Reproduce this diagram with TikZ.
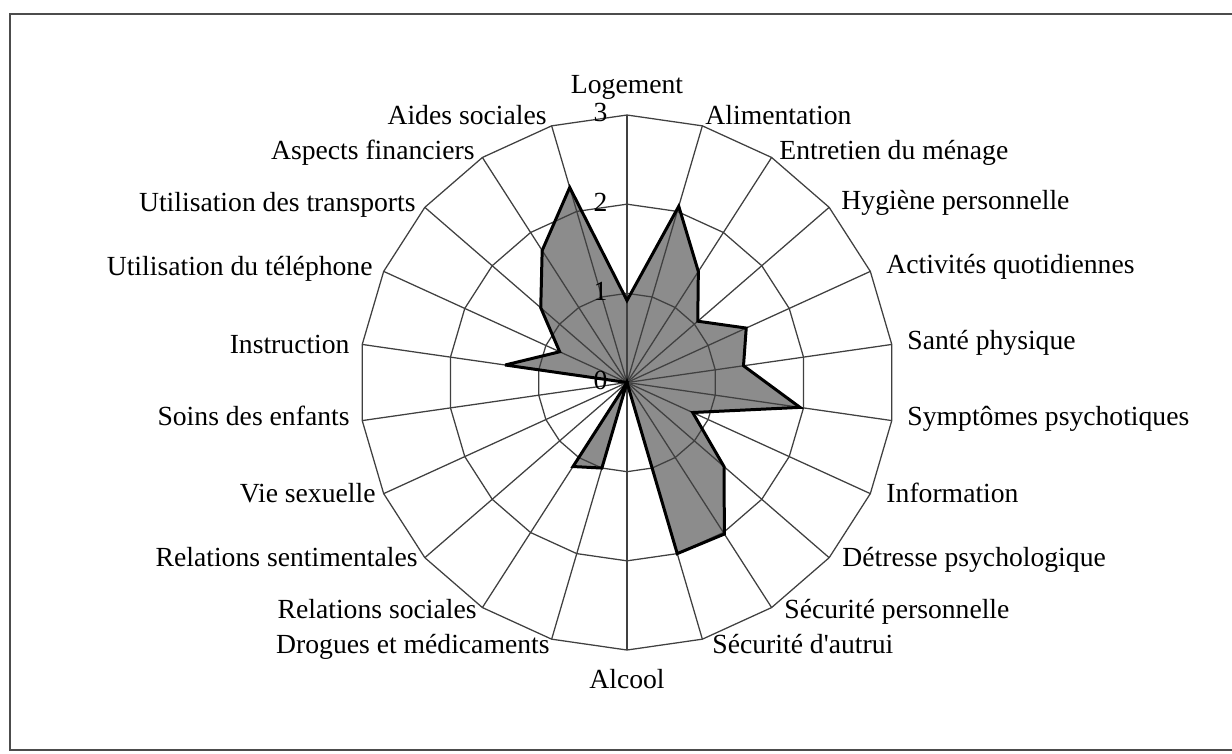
\documentclass[tikz,border=0pt]{standalone}
\usepackage{fontspec}
\setmainfont{Liberation Serif}
\newcommand{\runit}{89.17}

\begin{document}
\begin{tikzpicture}[x=0.434pt, y=-0.434pt,
    every node/.style={font=\fontsize{12}{14}\selectfont},
    gridline/.style={draw=black!75, line width=0.55pt},
    datafill/.style={fill=black!45},
    dataline/.style={draw=black, line width=1.3pt, line join=miter, miter limit=4},
    catlab/.style={inner sep=0pt, text height=8.5pt, text depth=2.5pt},
    ticklab/.style={catlab, anchor=east},
    frameline/.style={draw=black!70, line width=0.6pt}]
  \useasboundingbox (0,0) rectangle (1232,753);
  \draw[frameline] (1232,14) -- (10,14) -- (10,750) -- (1232,750);
  \begin{scope}[shift={(627,382.5)}]
    % scores, clockwise from Logement
    \foreach \v [count=\i from 0] in {0.92,2.06,1.48,1.05,1.47,1.32,1.96,0.81,1.44,2.02,2.00,
                                      0,1.00,1.12,0,0,0,1.38,0.83,1.28,1.76,2.28}
      \coordinate (d\i) at ({\i*360/22-90}:{\v*\runit});
    \fill[datafill] (d0) \foreach \i in {1,...,21} { -- (d\i) } -- cycle;
    % web
    \foreach \k in {1,2,3}
      \draw[gridline] (-90:{\k*\runit}) \foreach \i in {1,...,21} { -- ({\i*360/22-90}:{\k*\runit}) } -- cycle;
    \foreach \i in {0,...,21}
      \draw[gridline] (0,0) -- ({\i*360/22-90}:{3*\runit});
    \foreach \k in {0,...,3}
      \node[ticklab] (t\k) at (-19,{-\k*\runit}) {\k};
    \draw[dataline] (d0) \foreach \i in {1,...,21} { -- (d\i) } -- cycle;
  \end{scope}
  % category labels
  \foreach \txt/\anc/\px/\py [count=\i from 0] in {
      Logement/center/627/87, Alimentation/west/705/118, Entretien du ménage/west/779/153,
      Hygiène personnelle/west/841/203, Activités quotidiennes/west/886/267,
      Santé physique/west/907/343, Symptômes psychotiques/west/907/419,
      Information/west/886/496, Détresse psychologique/west/842/560,
      Sécurité personnelle/west/784/612, Sécurité d\textquotesingle{}autrui/west/712/647,
      Alcool/center/627/682, Drogues et médicaments/east/550/647,
      Relations sociales/east/477/612, Relations sentimentales/east/418/560,
      Vie sexuelle/east/376/496, Soins des enfants/east/350/419,
      Instruction/east/350/347, Utilisation du téléphone/east/373/269,
      Utilisation des transports/east/416/205, Aspects financiers/east/475/153,
      Aides sociales/east/547/118}
    \node[catlab, anchor=\anc] (c\i) at (\px,\py) {\txt};
\end{tikzpicture}
\end{document}
